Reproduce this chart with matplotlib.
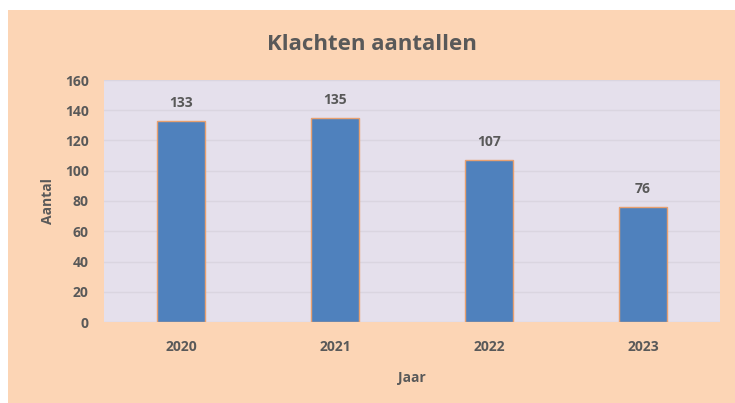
import matplotlib
matplotlib.use("Agg")
import matplotlib.pyplot as plt
from matplotlib.patches import Rectangle

years = ["2020", "2021", "2022", "2023"]
counts = [133, 135, 107, 76]
yticks = [0, 20, 40, 60, 80, 100, 120, 140, 160]

plt.rcParams['font.family'] = ['Open Sans', 'DejaVu Sans']
txt = '#595959'

fig = plt.figure(figsize=(7.35, 4.03), dpi=100, facecolor='white')
fig.patches.append(Rectangle((8/735, 0), 1 - 8/735, 1 - 10/403, transform=fig.transFigure,
                             facecolor='#FCD5B5', edgecolor='none', zorder=-10))

ax = fig.add_axes([104/735, (403-322)/403, (720-104)/735, (322-80)/403])
ax.set_facecolor('#E5E0EC')
x = range(len(years))
ax.bar(x, counts, width=0.31, color='#4F81BD', edgecolor='#E8A070', linewidth=1.0, zorder=3)
for xi, v in zip(x, counts):
    ax.annotate(str(v), (xi, v), xytext=(0, 8), textcoords='offset points',
                ha='center', va='bottom', fontsize=10, fontweight='bold', color=txt)
ax.set_xlim(-0.5, len(years) - 0.5)
ax.set_ylim(0, 160)
ax.set_yticks(yticks)
ax.set_xticks(list(x))
ax.set_xticklabels(years)
ax.grid(axis='y', color='#DAD5E0', linewidth=1.0, zorder=0)
for s in ax.spines.values():
    s.set_visible(False)
ax.tick_params(length=0, labelsize=10, labelcolor=txt)
for lbl in ax.get_xticklabels() + ax.get_yticklabels():
    lbl.set_fontweight('bold')
ax.tick_params(axis='x', pad=13)
ax.tick_params(axis='y', pad=11)
ax.set_xlabel('Jaar', fontsize=10, fontweight='bold', color=txt, labelpad=12)
ax.set_ylabel('Aantal', fontsize=10, fontweight='bold', color=txt, labelpad=7)
fig.text(0.5 + 8/735/2, 1 - 45/403, 'Klachten aantallen', ha='center', va='center',
         fontsize=16, fontweight='bold', color=txt)
fig.savefig('out.png', dpi=100, facecolor=fig.get_facecolor())
